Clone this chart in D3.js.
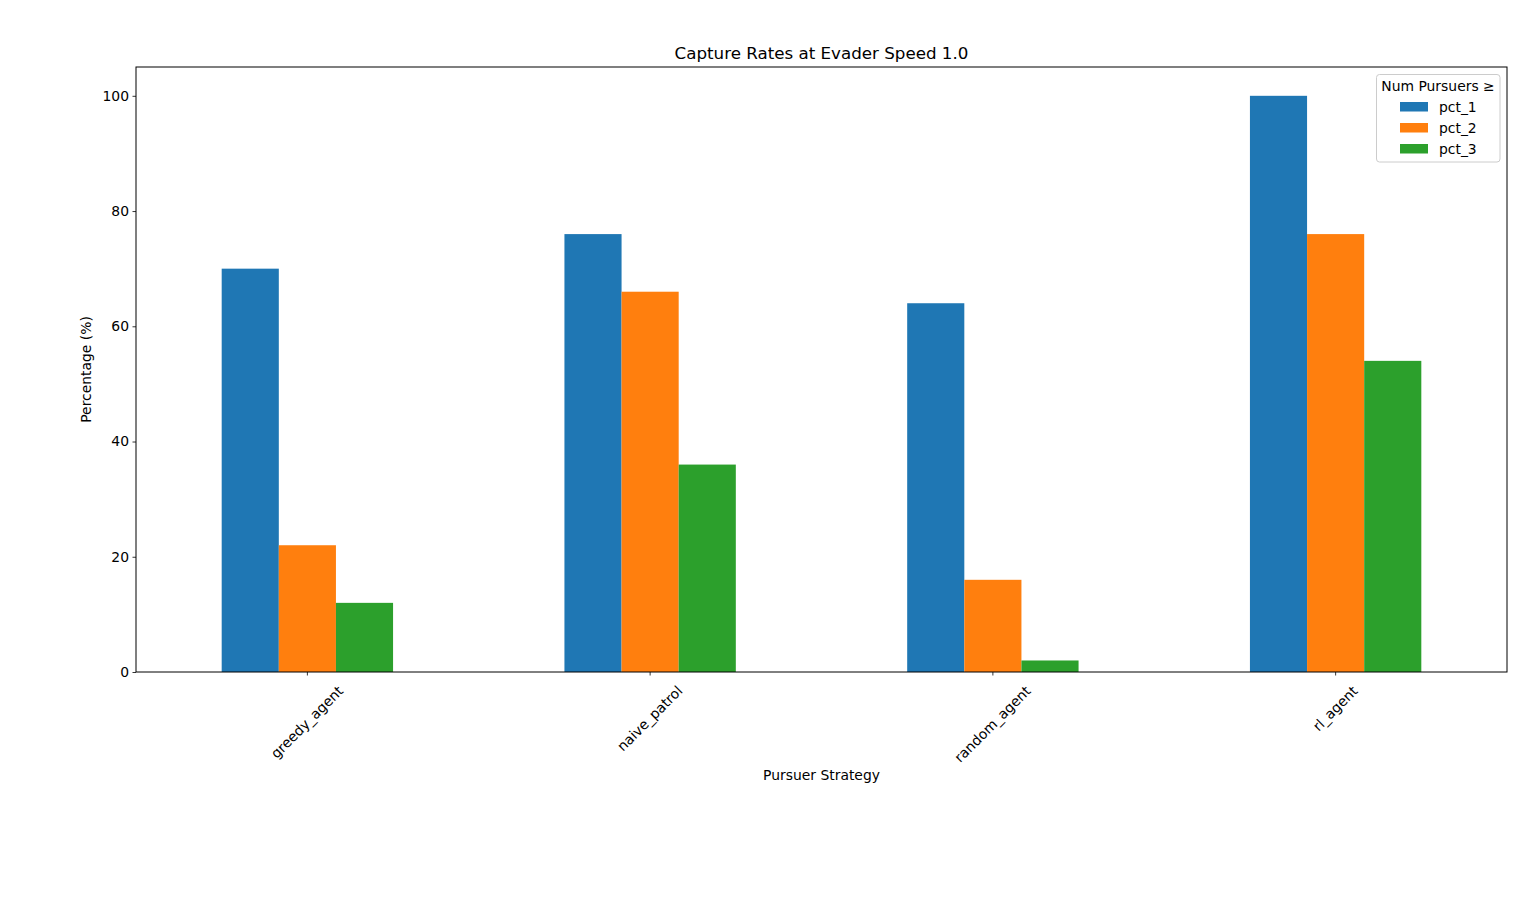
<!DOCTYPE html>
<html><head><meta charset="utf-8">
<script src="https://cdn.jsdelivr.net/npm/d3@7"></script>
<style>body{margin:0;background:#fff}svg{font-family:"DejaVu Sans",sans-serif}</style>
</head><body>
<svg id="c" width="1536" height="898"></svg>
<script>
const categories = ["greedy_agent","naive_patrol","random_agent","rl_agent"];
const seriesNames = ["pct_1","pct_2","pct_3"];
const pct_1 = [70, 76, 64, 100];
const pct_2 = [22, 66, 16, 76];
const pct_3 = [12, 36, 2, 54];
const yTicks = [0,20,40,60,80,100];
const colors = ["#1f77b4","#ff7f0e","#2ca02c"];
const values = [pct_1, pct_2, pct_3];

const svg = d3.select("#c");
const L=136, R=1507, T=67, B=672;
const x = d3.scaleLinear().domain([-0.5, 3.5]).range([L, R]);
const y = d3.scaleLinear().domain([0, 105]).range([B, T]);
const bw = 0.5/3;

values.forEach((vals, s) => {
  svg.append("g").selectAll("rect").data(vals).join("rect")
    .attr("x", (d,i) => x(i - 0.25 + s*bw))
    .attr("width", (d,i) => x(i - 0.25 + (s+1)*bw) - x(i - 0.25 + s*bw))
    .attr("y", d => y(d))
    .attr("height", d => y(0) - y(d))
    .attr("fill", colors[s]);
});

// y axis
const ya = svg.append("g").attr("transform", `translate(${L},0)`)
  .call(d3.axisLeft(y).tickValues(yTicks).tickSize(3.5).tickPadding(3.5));
ya.select(".domain").remove();
ya.selectAll("text").attr("font-size", "13.9px").attr("fill","#000").attr("font-family","DejaVu Sans");
ya.selectAll("line").attr("stroke","#000").attr("stroke-width",0.8);

// x axis
const xa = svg.append("g").attr("transform", `translate(0,${B})`);
categories.forEach((c,i) => {
  xa.append("line").attr("x1", x(i)).attr("x2", x(i)).attr("y1",0).attr("y2",3.5)
    .attr("stroke","#000").attr("stroke-width",0.8);
  const t = xa.append("text").text(c).attr("font-size","13.9px").attr("fill","#000")
    .attr("text-anchor","middle").attr("dominant-baseline","central");
  const bb = t.node().getBBox();
  const half = (bb.width + bb.height) * Math.SQRT1_2 / 2;
  t.attr("transform", `translate(${x(i) - 0.5},${3.5+3.5+half+3.5}) rotate(-45)`);
});

// frame
svg.append("rect").attr("x",L).attr("y",T).attr("width",R-L).attr("height",B-T)
  .attr("fill","none").attr("stroke","#000").attr("stroke-width",1);

// title & labels
svg.append("text").attr("x",(L+R)/2).attr("y",59).attr("text-anchor","middle")
  .attr("font-size","16.7px").text("Capture Rates at Evader Speed 1.0");
svg.append("text").attr("x",(L+R)/2).attr("y",780).attr("text-anchor","middle")
  .attr("font-size","13.9px").text("Pursuer Strategy");
svg.append("text").attr("transform",`translate(91,${(T+B)/2}) rotate(-90)`).attr("text-anchor","middle")
  .attr("font-size","13.9px").text("Percentage (%)");

// legend
const lg = svg.append("g");
lg.append("rect").attr("x",1376.5).attr("y",74.5).attr("width",123.5).attr("height",87.5)
  .attr("rx",3).attr("fill","#fff").attr("fill-opacity",0.8).attr("stroke","#ccc").attr("stroke-width",1);
lg.append("text").attr("x",1438).attr("y",91).attr("text-anchor","middle").attr("font-size","13.9px").text("Num Pursuers ≥");
seriesNames.forEach((n,s) => {
  const yy = 107 + s*21;
  lg.append("rect").attr("x",1400).attr("y",yy-5).attr("width",28).attr("height",9.5).attr("fill",colors[s]);
  lg.append("text").attr("x",1439).attr("y",yy+5).attr("font-size","13.9px").text(n);
});
</script>
</body></html>
